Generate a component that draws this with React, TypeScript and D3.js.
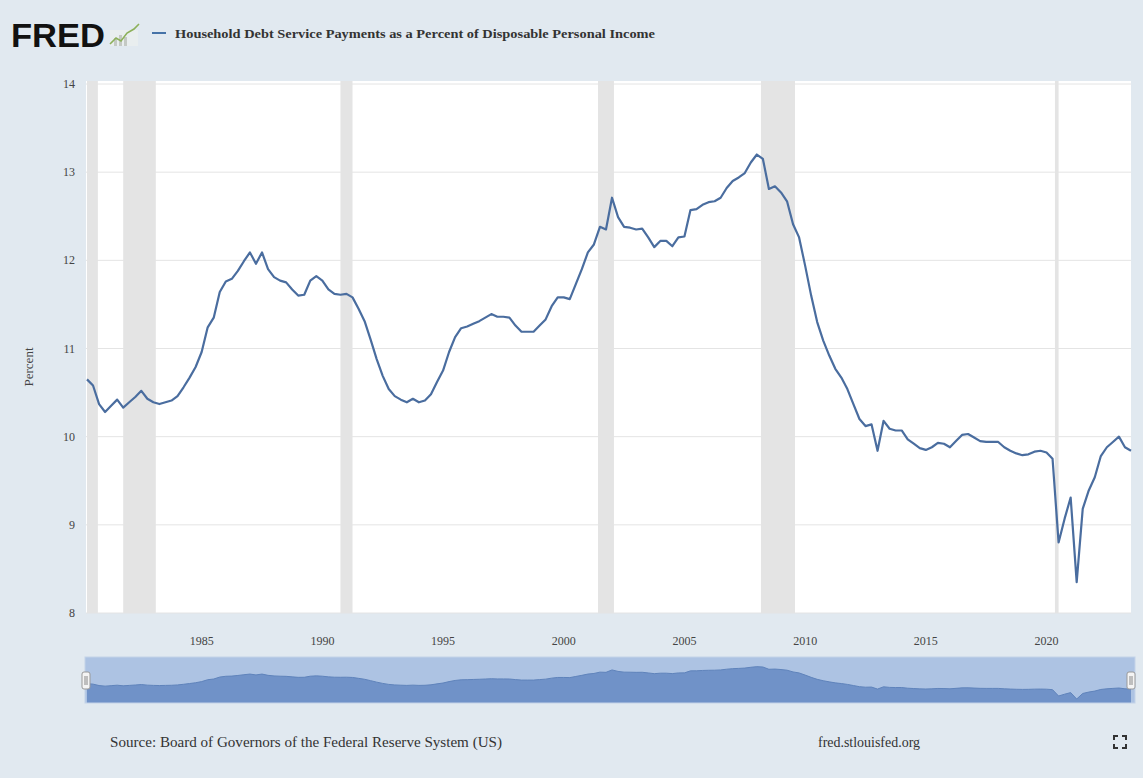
import React from "react";
import * as d3 from "d3";

// Quarterly values, 1980Q1 .. 2023Q2 (percent)
const startYear = 1980;
const values: number[] = [
  10.65, 10.58, 10.37, 10.28, 10.35, 10.42, 10.33, 10.39, 10.45, 10.52, 10.43, 10.39,
  10.37, 10.39, 10.41, 10.46, 10.56, 10.67, 10.79, 10.96, 11.24, 11.35, 11.64, 11.76,
  11.79, 11.88, 11.99, 12.09, 11.96, 12.09, 11.9, 11.81, 11.77, 11.75, 11.67, 11.6,
  11.61, 11.77, 11.82, 11.77, 11.67, 11.62, 11.61, 11.62, 11.58, 11.45, 11.31, 11.1,
  10.88, 10.69, 10.54, 10.46, 10.42, 10.39, 10.43, 10.39, 10.41, 10.48, 10.62, 10.75,
  10.96, 11.13, 11.23, 11.25, 11.28, 11.31, 11.35, 11.39, 11.36, 11.36, 11.35, 11.26,
  11.19, 11.19, 11.19, 11.26, 11.33, 11.48, 11.58, 11.58, 11.56, 11.73, 11.9, 12.09,
  12.18, 12.38, 12.35, 12.71, 12.49, 12.38, 12.37, 12.35, 12.36, 12.26, 12.15, 12.22,
  12.22, 12.16, 12.26, 12.27, 12.57, 12.58, 12.63, 12.66, 12.67, 12.71, 12.82, 12.9,
  12.94, 12.99, 13.11, 13.2, 13.15, 12.81, 12.84, 12.77, 12.67, 12.41, 12.26, 11.94,
  11.6, 11.3, 11.09, 10.92, 10.77, 10.67, 10.54, 10.37, 10.2, 10.12, 10.14, 9.84,
  10.18, 10.09, 10.07, 10.07, 9.97, 9.92, 9.87, 9.85, 9.88, 9.93, 9.92, 9.88,
  9.95, 10.02, 10.03, 9.99, 9.95, 9.94, 9.94, 9.94, 9.88, 9.84, 9.81, 9.79,
  9.8, 9.83, 9.84, 9.82, 9.75, 8.8, 9.07, 9.31, 8.35, 9.18, 9.39, 9.54,
  9.78, 9.88, 9.94, 10.0, 9.88, 9.84,
];

const recessionStarts: number[] = [1980.0, 1981.5, 1990.5, 2001.17, 2007.92, 2020.1];
const recessionEnds: number[] = [1980.45, 1982.85, 1991.0, 2001.83, 2009.33, 2020.25];

const yTicks: number[] = [8, 9, 10, 11, 12, 13, 14];
const xTickYears: number[] = [1985, 1990, 1995, 2000, 2005, 2010, 2015, 2020];

const title = "Household Debt Service Payments as a Percent of Disposable Personal Income";
const yLabel = "Percent";
const sourceText = "Source: Board of Governors of the Federal Reserve System (US)";
const siteText = "fred.stlouisfed.org";

const W = 1143;
const H = 778;
const serif = "'Liberation Serif', 'DejaVu Serif', serif";

export default function App() {
  const data = values.map((v, i) => ({ t: startYear + i * 0.25, v }));
  const plotL = 86;
  const plotR = 1131;
  const plotT = 81;
  const plotB = 613;

  const x = d3.scaleLinear().domain([1980, 2023.25]).range([87, 1131]);
  const y = d3.scaleLinear().domain([8, 14]).range([613, 84]);

  const line = d3
    .line<{ t: number; v: number }>()
    .x((d) => x(d.t))
    .y((d) => y(d.v));

  // navigator
  const nyTop = 657;
  const nyBot = 703;
  const ny = d3.scaleLinear().domain([8.2, 13.3]).range([700, 666]);
  const nArea = d3
    .area<{ t: number; v: number }>()
    .x((d) => x(d.t))
    .y0(nyBot)
    .y1((d) => ny(d.v));
  const nLine = d3
    .line<{ t: number; v: number }>()
    .x((d) => x(d.t))
    .y((d) => ny(d.v));

  return (
    <svg
      width={W}
      height={H}
      style={{ position: "absolute", left: 0, top: 0, display: "block" }}
      xmlns="http://www.w3.org/2000/svg"
    >
      <rect x={0} y={0} width={W} height={H} fill="#e1e9f0" />

      {/* Header */}
      <text
        x={11}
        y={47}
        fontFamily="'Liberation Sans', Arial, sans-serif"
        fontWeight={700}
        fontSize={34}
        fill="#111"
        textLength={94}
        lengthAdjust="spacingAndGlyphs"
      >
        FRED
      </text>
      <g>
        <rect x={110} y={30} width={28} height={16} fill="#eef1ee" opacity={0.6} />
        <rect x={114} y={38} width={3} height={8} fill="#c4c9c4" />
        <rect x={119} y={35} width={3} height={11} fill="#c4c9c4" />
        <rect x={124} y={37} width={3} height={9} fill="#c4c9c4" />
        <polyline
          points="110,44 116,38 121,41 127,33 134,29 139,24"
          fill="none"
          stroke="#8cb05a"
          strokeWidth={1.6}
        />
      </g>
      <line x1={152} x2={166} y1={33} y2={33} stroke="#4572a7" strokeWidth={2} />
      <text
        x={175}
        y={38}
        fontFamily={serif}
        fontWeight={700}
        fontSize={13.5}
        fill="#333"
        textLength={480}
        lengthAdjust="spacingAndGlyphs"
      >
        {title}
      </text>

      {/* Plot background */}
      <rect x={plotL} y={plotT} width={plotR - plotL} height={plotB - plotT} fill="#ffffff" />

      {/* Recession bands */}
      {recessionStarts.map((s, i) => (
        <rect
          key={"r" + i}
          x={x(s)}
          y={plotT}
          width={Math.max(1.5, x(recessionEnds[i]) - x(s))}
          height={plotB - plotT}
          fill="#e4e4e4"
        />
      ))}

      {/* Gridlines */}
      {yTicks.map((t) => (
        <line
          key={"g" + t}
          x1={plotL}
          x2={plotR}
          y1={y(t)}
          y2={y(t)}
          stroke="#e4e4e4"
          strokeWidth={1}
        />
      ))}

      {/* Y tick labels */}
      {yTicks.map((t) => (
        <text
          key={"yt" + t}
          x={75}
          y={y(t) + 4}
          textAnchor="end"
          fontFamily={serif}
          fontSize={12}
          fill="#444"
        >
          {t}
        </text>
      ))}
      <text
        transform={`translate(33, ${(plotT + plotB) / 2 + 20}) rotate(-90)`}
        textAnchor="middle"
        fontFamily={serif}
        fontSize={13}
        fill="#444"
      >
        {yLabel}
      </text>

      {/* X tick labels */}
      {xTickYears.map((yr) => (
        <text
          key={"xt" + yr}
          x={x(yr) - 6}
          y={645}
          textAnchor="middle"
          fontFamily={serif}
          fontSize={12}
          fill="#444"
        >
          {yr}
        </text>
      ))}

      {/* Series line */}
      <path d={line(data) || ""} fill="none" stroke="#4a6d9f" strokeWidth={2.2} strokeLinejoin="round" />

      {/* Navigator */}
      <rect x={85} y={nyTop} width={1050} height={nyBot - nyTop} fill="#adc3e3" />
      <path d={nArea(data) || ""} fill="#7092c8" />
      <path d={nLine(data) || ""} fill="none" stroke="#5f83bb" strokeWidth={1} />
      <rect x={85} y={nyTop} width={1050} height={nyBot - nyTop} fill="none" stroke="#c4d3e8" strokeWidth={1} />
      <g>
        <rect x={82} y={672} width={8} height={17} rx={2} fill="#f4f4f4" stroke="#999" strokeWidth={1} />
        <line x1={85} x2={85} y1={676} y2={685} stroke="#888" />
        <line x1={87} x2={87} y1={676} y2={685} stroke="#888" />
        <rect x={1127} y={672} width={8} height={17} rx={2} fill="#f4f4f4" stroke="#999" strokeWidth={1} />
        <line x1={1130} x2={1130} y1={676} y2={685} stroke="#888" />
        <line x1={1132} x2={1132} y1={676} y2={685} stroke="#888" />
      </g>

      {/* Footer */}
      <text x={110} y={747} fontFamily={serif} fontSize={14} fill="#333" textLength={392} lengthAdjust="spacingAndGlyphs">
        {sourceText}
      </text>
      <text x={818} y={747} fontFamily={serif} fontSize={14} fill="#333" textLength={102} lengthAdjust="spacingAndGlyphs">
        {siteText}
      </text>
      <g stroke="#333" strokeWidth={2} fill="none">
        <polyline points="1114,740 1114,736 1118,736" />
        <polyline points="1122,736 1126,736 1126,740" />
        <polyline points="1114,744 1114,748 1118,748" />
        <polyline points="1122,748 1126,748 1126,744" />
      </g>
    </svg>
  );
}
